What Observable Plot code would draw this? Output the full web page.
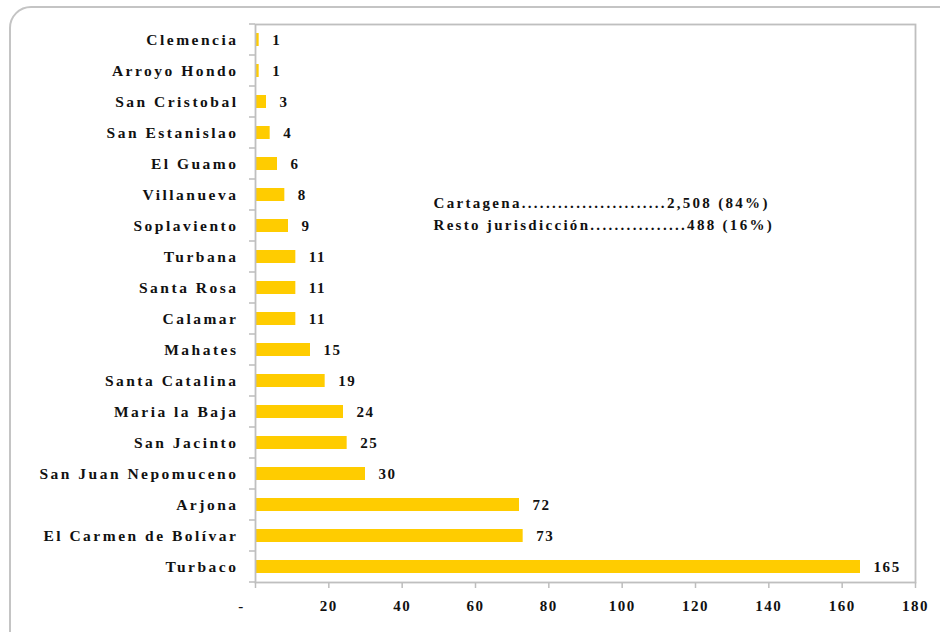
<!DOCTYPE html>
<html>
<head>
<meta charset="utf-8">
<script src="https://cdn.jsdelivr.net/npm/d3@7"></script>
<script src="https://cdn.jsdelivr.net/npm/@observablehq/plot@0.6"></script>
<style>
  html, body { margin: 0; padding: 0; background: #fff; width: 940px; height: 632px; overflow: hidden; }
  #wrap { position: relative; width: 940px; height: 632px; }
  #border { position: absolute; left: 9px; top: 6px; width: 960px; height: 660px;
            border: 2px solid #c4c4c4; border-radius: 22px; box-sizing: border-box; }
  #chart { position: absolute; left: 0; top: 0; }
  #chart svg text { font-family: "Liberation Serif", "DejaVu Serif", serif !important; font-weight: bold !important; fill: #111; }
  #chart svg g[aria-label="y-axis tick label"] text { font-size: 15.5px; letter-spacing: 2.5px; }
  #chart svg g[aria-label="x-axis tick label"] text { font-size: 15px; letter-spacing: 1.5px; }
  #chart svg g[aria-label="text"] text { letter-spacing: 1.6px; }
  #chart svg g[aria-label="x-axis tick"] path { stroke: #bdbdbd; stroke-width: 1.5; }
</style>
</head>
<body>
<div id="wrap">
  <div id="border"></div>
  <div id="chart"></div>
</div>
<script>
const municipios = ["Clemencia","Arroyo Hondo","San Cristobal","San Estanislao","El Guamo","Villanueva","Soplaviento","Turbana","Santa Rosa","Calamar","Mahates","Santa Catalina","Maria la Baja","San Jacinto","San Juan Nepomuceno","Arjona","El Carmen de Bolívar","Turbaco"];
const casos = [1,1,3,4,6,8,9,11,11,11,15,19,24,25,30,72,73,165];
const xTicks = [0,20,40,60,80,100,120,140,160,180];
const notas = ["Cartagena........................2,508 (84%)", "Resto jurisdicción................488 (16%)"];

const data = municipios.map((m, i) => ({municipio: m, valor: casos[i]}));

const plot = Plot.plot({
  width: 940,
  height: 632,
  marginLeft: 255,
  marginRight: 25,
  marginTop: 24,
  marginBottom: 50,
  style: {fontSize: "15px", background: "transparent", overflow: "visible"},
  x: {domain: [0, 180], ticks: xTicks, tickFormat: d => d === 0 ? "-" : String(d), tickSize: 6, tickPadding: 12, label: null},
  y: {domain: municipios, paddingInner: 0.58, paddingOuter: 0.29, label: null, tickSize: 0, tickPadding: 17},
  marks: [
    Plot.barX(data, {y: "municipio", x: "valor", fill: "#FFCC00"}),
    Plot.text(data, {y: "municipio", x: "valor", text: d => String(d.valor), textAnchor: "start", dx: 13, fontSize: 15, fontWeight: "bold"}),
    Plot.frame({stroke: "#bfbfbf", strokeWidth: 1.8}),
    Plot.text([notas[0]], {text: d => d, frameAnchor: "top-left", dx: 178, dy: 173, fontSize: 15, fontWeight: "bold", textAnchor: "start"}),
    Plot.text([notas[1]], {text: d => d, frameAnchor: "top-left", dx: 178, dy: 195, fontSize: 15, fontWeight: "bold", textAnchor: "start"})
  ]
});

document.getElementById("chart").appendChild(plot);
const svg = d3.select(plot);

// wider letter spacing for the two note lines
svg.selectAll('g[aria-label="text"]').filter((d, i) => i >= 1).selectAll("text").style("letter-spacing", "2.3px");

// Excel places the "-" zero label slightly left of its tick
svg.selectAll('g[aria-label="x-axis tick label"] text').filter((d, i) => i === 0)
  .attr("dx", -14);

// category boundary ticks on the y axis (Excel style)
const ys = plot.scale("y");
const xs = plot.scale("x");
const x0 = xs.apply(0);
const off = (ys.step - ys.bandwidth) / 2;
const bounds = ys.domain.map(c => ys.apply(c) - off).concat([ys.apply(ys.domain[ys.domain.length - 1]) + ys.bandwidth + off]);
svg.append("g").selectAll("line").data(bounds).join("line")
  .attr("x1", x0 - 6).attr("x2", x0).attr("y1", d => d).attr("y2", d => d)
  .attr("stroke", "#bdbdbd").attr("stroke-width", 1.5);
</script>
</body>
</html>
